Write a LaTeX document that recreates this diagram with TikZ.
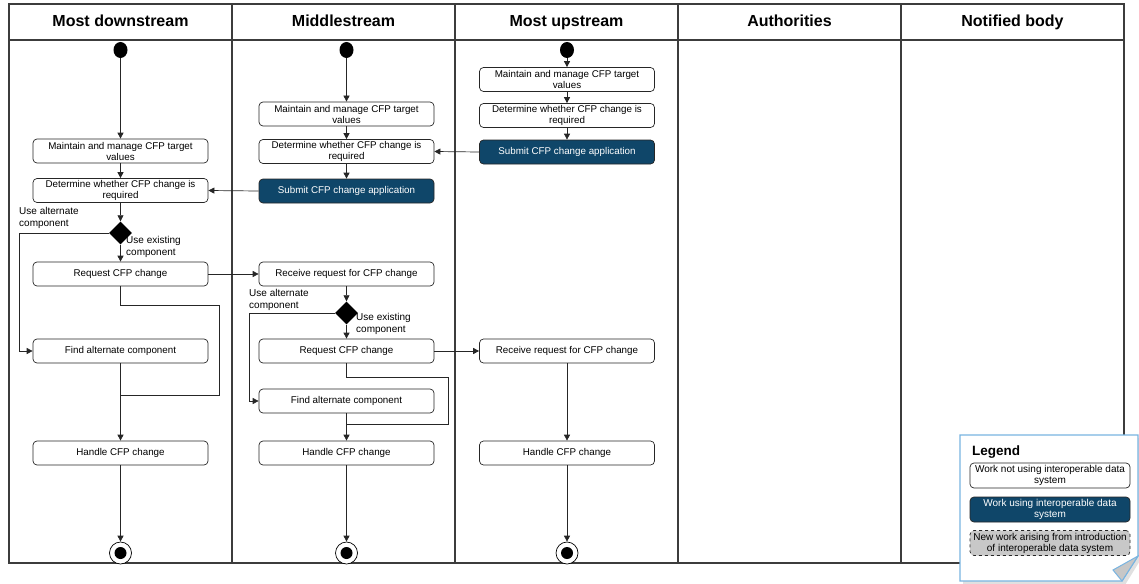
\documentclass[tikz,border=0pt]{standalone}
\usepackage{fontspec}
\setmainfont{Liberation Sans}
\usetikzlibrary{arrows.meta,shapes.geometric}
\definecolor{navy}{RGB}{15,70,105}
\definecolor{frameline}{RGB}{60,60,60}
\definecolor{notebd}{RGB}{120,180,225}
\definecolor{newwork}{RGB}{200,200,200}
\newcommand{\nohyph}{\hyphenpenalty=10000\exhyphenpenalty=10000}
\tikzset{
  act/.style={draw=black!85, rectangle, rounded corners=4, minimum width=175, minimum height=24,
    text width=166, align=flush center, inner sep=0, line width=0.7,
    font=\fontsize{9.8}{11}\selectfont\nohyph, fill=white},
  actdark/.style={act, fill=navy, text=white},
  legbox/.style={act, minimum width=160, text width=157, minimum height=25, font=\fontsize{10}{11}\selectfont\nohyph},
  startdot/.style={ellipse, fill=black, minimum width=14, minimum height=16, inner sep=0},
  enddot/.style={circle, draw=black, line width=0.7, minimum width=22, minimum height=20, inner sep=0, fill=white,
    path picture={\fill[black] (path picture bounding box.center) circle (6);}},
  choice/.style={diamond, fill=black, minimum width=23, minimum height=23, inner sep=0},
  guard/.style={align=left, inner sep=0, font=\fontsize{10}{12}\selectfont},
  lanehead/.style={font=\fontsize{16}{19}\selectfont\bfseries, anchor=base},
  arr/.style={-{Triangle[length=6,width=6]}, line width=0.7, black!85},
  ln/.style={line width=0.7, black!85},
}
\begin{document}
\begin{tikzpicture}[x=1pt,y=-1pt]
\useasboundingbox (0,0) rectangle (1139,583);

% swimlane frame
\draw[frameline, line width=1.2] (9,4) rectangle (1124,563);
\draw[frameline, line width=1.2] (9,40) -- (1124,40);
\foreach \xx in {232,455,678,901} \draw[frameline, line width=1.2] (\xx,4) -- (\xx,563);
\node[lanehead] (h1) at (120.5,27) {Most downstream};
\node[lanehead] (h2) at (343.5,27) {Middlestream};
\node[lanehead] (h3) at (566.5,27) {Most upstream};
\node[lanehead] (h4) at (789.5,27) {Authorities};
\node[lanehead] (h5) at (1012.5,27) {Notified body};

% most downstream lane
\node[startdot] (s1) at (120.5,50) {};
\node[act] (m1) at (120.5,151) {Maintain and manage CFP target values};
\node[act] (d1) at (120.5,190.5) {Determine whether CFP change is required};
\node[choice] (c1) at (120.5,233) {};
\node[act] (r1) at (120.5,274) {Request CFP change};
\node[act] (f1) at (120.5,351) {Find alternate component};
\node[act] (hd1) at (120.5,453) {Handle CFP change};
\node[enddot] (e1) at (120.5,553) {};
\node[guard, anchor=north west] (g1a) at (19,207) {Use alternate\\component};
\node[guard, anchor=north west] (g1b) at (126,236) {Use existing\\component};

% middlestream lane
\node[startdot] (s2) at (346.5,50) {};
\node[act] (m2) at (346.5,114) {Maintain and manage CFP target values};
\node[act] (d2) at (346.5,151.5) {Determine whether CFP change is required};
\node[actdark] (sb2) at (346.5,191) {Submit CFP change application};
\node[act] (rv2) at (346.5,274) {Receive request for CFP change};
\node[choice] (c2) at (346.5,313) {};
\node[act] (r2) at (346.5,351) {Request CFP change};
\node[act] (f2) at (346.5,401) {Find alternate component};
\node[act] (hd2) at (346.5,453) {Handle CFP change};
\node[enddot] (e2) at (346.5,553) {};
\node[guard, anchor=north west] (g2a) at (249,289) {Use alternate\\component};
\node[guard, anchor=north west] (g2b) at (356,313) {Use existing\\component};

% most upstream lane
\node[startdot] (s3) at (567,50) {};
\node[act] (m3) at (567,79.5) {Maintain and manage CFP target values};
\node[act] (d3) at (567,115.5) {Determine whether CFP change is required};
\node[actdark] (sb3) at (567,152) {Submit CFP change application};
\node[act] (rv3) at (567,351) {Receive request for CFP change};
\node[act] (hd3) at (567,453) {Handle CFP change};
\node[enddot] (e3) at (567,553) {};

% flows, most downstream
\draw[arr] (s1) -- (m1);
\draw[arr] (m1) -- (d1);
\draw[arr] (d1) -- (c1);
\draw[arr] (c1) -- (r1);
\draw[arr] (c1.west) -- (19,233) |- (f1.west);
\draw[ln] (r1.south) -- (120.5,305) -- (219,305) -- (219,395) -- (120.5,395);
\draw[arr] (f1) -- (hd1);
\draw[arr] (hd1) -- (e1);

% flows, middlestream
\draw[arr] (s2) -- (m2);
\draw[arr] (m2) -- (d2);
\draw[arr] (d2) -- (sb2);
\draw[arr] (rv2) -- (c2);
\draw[arr] (c2) -- (r2);
\draw[arr] (c2.west) -- (249,313) |- (f2.west);
\draw[ln] (r2.south) -- (346.5,377) -- (448,377) -- (448,424) -- (346.5,424);
\draw[arr] (f2) -- (hd2);
\draw[arr] (hd2) -- (e2);

% flows, most upstream
\draw[arr] (s3) -- (m3);
\draw[arr] (m3) -- (d3);
\draw[arr] (d3) -- (sb3);
\draw[arr] (rv3) -- (hd3);
\draw[arr] (hd3) -- (e3);

% flows across lanes
\draw[arr] (sb2.west) -- (d1.east);
\draw[arr] (sb3.west) -- (d2.east);
\draw[arr] (r1.east) -- (rv2.west);
\draw[arr] (r2.east) -- (rv3.west);

% legend note with folded corner
\fill[black!12] (963,438) -- (1141,438) -- (1141,559) -- (1125,585) -- (963,585) -- cycle;
\draw[notebd, line width=1.2, fill=white] (960,435) -- (1138,435) -- (1138,556) -- (1122,581) -- (960,581) -- cycle;
\draw[notebd, line width=1, fill=black!22] (1138,556) -- (1113,570) -- (1122,581) -- cycle;
\node[font=\fontsize{13.5}{16}\selectfont\bfseries, anchor=west, inner sep=0] (lg) at (972,452) {Legend};
\node[legbox] (lw) at (1050,475.5) {Work not using interoperable data system};
\node[legbox, fill=navy, text=white] (ld) at (1050,509.5) {Work using interoperable data system};
\node[legbox, fill=newwork, dashed] (ln) at (1050,543) {New work arising from introduction of interoperable data system};
\end{tikzpicture}
\end{document}
